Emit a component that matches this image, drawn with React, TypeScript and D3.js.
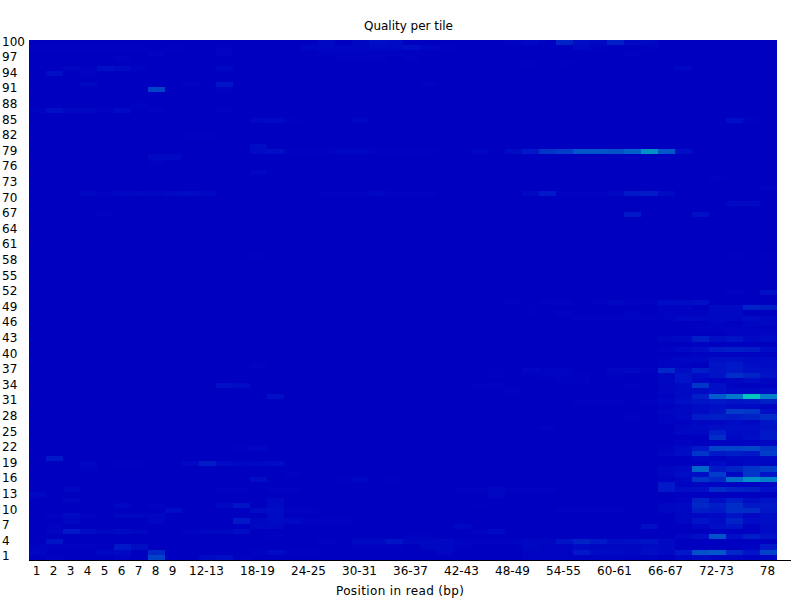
import React from "react";
import * as d3 from "d3";

// Position labels: single bases 1-9, then two-base groups, then base 78
const singleBases: string[] = ["1", "2", "3", "4", "5", "6", "7", "8", "9"];
const pairedBases: string[] = d3.range(10, 78, 2).map((b) => `${b}-${b + 1}`);
const positions: string[] = [...singleBases, ...pairedBases, "78"];
const shownPositions: string[] = [
  "1", "2", "3", "4", "5", "6", "7", "8", "9", "12-13", "18-19", "24-25", "30-31", "36-37",
  "42-43", "48-49", "54-55", "60-61", "66-67", "72-73", "78",
];
const tiles: number[] = d3.range(100, 0, -1);
const shownTiles: number[] = d3.range(100, 0, -3);

// Each run: [tile, first position index, values of consecutive positions...]; unlisted cells are 0
const runsTop: number[][] = [
  [100, 17, 6, 0, 5, 10, 8], [100, 28, 2, 4, 0, 18, 9, 5, 16, 6, 6],
  [99, 0, 3, 3, 3, 3, 3, 3, 3, 0, 3, 0, 0, 3], [99, 16, 5, 4, 4, 4, 7, 7, 10, 4, 3], [99, 32, 6, 2, 0, 0, 2],
  [98, 7, 3], [98, 11, 3], [98, 17, 2, 2, 2, 2, 2, 1], [98, 35, 2],
  [97, 5, 2], [97, 18, 2, 2, 2, 0, 2],
  [96, 29, 2, 0, 3],
  [95, 2, 4, 3, 10, 7, 2, 0, 1, 1, 1, 5], [95, 17, 1.5], [95, 38, 5],
  [94, 1, 10, 0, 2],
  [92, 3, 5], [92, 9, 3, 0, 12], [92, 23, 2],
  [91, 7, 30], [91, 11, 2],
  [88, 6, 2],
  [87, 0, 2, 10, 5, 5, 3, 7, 0, 3], [87, 11, 3],
  [85, 13, 6, 7, 3], [85, 19, 4], [85, 41, 10, 3],
  [82, 9, 3, 3],
  [80, 13, 8],
  [79, 13, 7, 10, 3, 3, 3, 5, 5, 3, 3, 3, 3], [79, 26, 5, 0, 8, 14, 25, 28, 38, 38, 36, 42, 70, 38, 10],
  [78, 7, 6, 6],
  [77, 7, 3],
  [75, 13, 4],
  [74, 40, 2],
  [72, 43, 2],
  [71, 3, 4, 2, 5, 6, 4, 7, 8, 5], [71, 17, 2, 2, 2, 4, 2, 2, 2], [71, 29, 6, 14, 3, 3, 3, 5, 14, 15, 7],
  [69, 18, 1.5], [69, 22, 1.5], [69, 41, 6, 6],
  [67, 4, 2], [67, 35, 14], [67, 39, 10],
  [59, 13, 2], [59, 41, 2], [59, 43, 2],
];

const runsMiddle: number[][] = [
  [52, 41, 3, 0, 10],
  [50, 28, 2, 0, 2, 2, 0, 2, 4, 2, 3, 8, 8, 10],
  [49, 29, 1.5], [49, 37, 3, 3, 0, 7, 7, 18, 16],
  [48, 29, 1.5, 0, 2], [48, 35, 2, 0, 2, 2, 2, 6, 6],
  [47, 32, 2, 2, 2, 3, 3, 3, 6, 6, 6, 6, 8, 5],
  [46, 40, 3, 0, 4, 6],
  [45, 39, 2, 3, 3, 3, 3],
  [44, 41, 2, 2, 6],
  [43, 37, 5, 6, 16, 10, 12, 6, 8],
  [42, 39, 2],
  [41, 37, 3, 6, 9, 15, 17, 15, 8],
  [40, 39, 3, 3, 3, 3, 3],
  [39, 37, 2, 5, 5, 10, 10, 8, 8],
  [38, 13, 2], [38, 37, 2, 3, 0, 12, 14, 10, 8],
  [37, 27, 3, 0, 4, 3, 3], [37, 34, 4, 6, 3, 20, 9, 16, 12, 14, 11, 10],
  [36, 27, 1.5, 1.5, 1.5, 2, 3, 3, 0, 3], [36, 37, 5, 12, 8, 12, 22, 18, 12],
  [35, 31, 2, 2], [35, 37, 5, 12, 5, 2, 4, 8, 4],
  [34, 11, 10, 8], [34, 26, 2, 2], [34, 35, 2, 0, 4, 7, 25, 10, 3, 3, 2],
  [33, 28, 2], [33, 37, 4, 7, 7, 10, 6, 7, 9],
  [32, 14, 10], [32, 37, 2, 7, 16, 40, 55, 98, 60],
  [31, 32, 2, 2, 2, 0, 2, 5, 10, 12, 14, 12, 13, 17],
  [30, 37, 2, 4, 8, 10, 7, 7, 4],
  [29, 37, 4, 6, 8, 12, 27, 25, 10],
  [28, 35, 2, 0, 3, 6, 15, 16, 15, 18, 22],
  [27, 37, 2, 3, 5, 4, 8, 6, 12],
  [26, 30, 2], [26, 38, 5, 7, 9, 10, 10, 12],
];

const runsBottom: number[][] = [
  [25, 38, 6, 5, 16, 8, 8, 14],
  [24, 40, 22, 6, 10, 14],
  [23, 38, 2, 0, 3, 3, 3, 6],
  [22, 12, 2, 4], [22, 37, 3, 7, 14, 30, 30, 32, 25],
  [21, 37, 4, 8, 25, 14, 16, 14, 28],
  [20, 1, 14], [20, 39, 5, 3, 5, 6, 7],
  [19, 3, 4, 0, 2, 2, 0, 0, 6, 15, 8, 5, 6, 8], [19, 40, 8, 3, 5, 4],
  [18, 3, 2], [18, 37, 5, 7, 45, 14, 18, 25, 28],
  [17, 15, 2], [17, 37, 4, 9, 10, 28, 5, 25, 12],
  [16, 13, 9], [16, 18, 2, 5, 0, 2], [16, 37, 3, 5, 25, 20, 50, 68, 60],
  [15, 37, 14, 2, 4, 5, 3, 3, 4],
  [14, 2, 5], [14, 11, 3, 3, 0, 3, 3], [14, 25, 2, 2, 5, 2, 3, 3], [14, 37, 14, 9, 10, 22, 18, 16, 10],
  [13, 0, 4], [13, 27, 4], [13, 38, 1],
  [12, 2, 4], [12, 14, 6], [12, 38, 3, 18, 10, 16, 9, 12],
  [11, 5, 5, 0, 3], [11, 11, 5, 12, 0, 7], [11, 26, 1.5], [11, 37, 5, 6, 20, 16, 22, 14, 14],
  [10, 8, 8], [10, 13, 8, 8, 2, 2], [10, 31, 3, 3, 3, 3], [10, 37, 5, 6, 16, 14, 22, 22, 13],
  [9, 1, 3, 7, 2, 0, 5, 4, 5], [9, 14, 8], [9, 38, 5, 4, 7, 12, 4, 10],
  [8, 2, 5], [8, 7, 4], [8, 12, 14, 5, 7, 6, 3, 3, 3], [8, 38, 4, 12, 8, 18, 8, 10],
  [7, 1, 2], [7, 13, 6, 6], [7, 25, 5], [7, 36, 10, 0, 0, 4, 10, 12, 3, 9],
  [6, 1, 4, 14, 8, 5, 7, 4, 0, 0, 3, 5, 5, 9], [6, 26, 2, 7], [6, 40, 2, 0, 0, 8],
  [5, 14, 2], [5, 19, 1.5, 1.5, 0, 2, 2], [5, 38, 4, 10, 36, 10, 16, 12],
  [4, 1, 12], [4, 17, 3, 0, 6, 6, 12, 5, 6, 6, 3, 3, 3, 3, 5], [4, 30, 4, 12, 18, 14, 9, 10, 12, 6],
  [3, 0, 3, 2, 2, 2, 0, 14, 9], [3, 19, 3, 3, 3, 0, 5, 5, 3, 0, 0, 0, 5, 2, 3, 7, 5, 5, 5, 7, 6], [3, 42, 3, 14],
  [2, 0, 4, 0, 0, 0, 5, 6, 0, 20], [2, 13, 2, 8, 3, 3], [2, 24, 4], [2, 29, 3, 3, 3, 14, 8, 7, 5, 9, 6, 14, 35, 38, 20, 12, 30],
  [1, 1, 3, 0, 0, 0, 3, 0, 30, 0, 0, 7, 10, 3], [1, 29, 3, 3, 3, 3, 3, 3, 3, 3, 0, 5, 8, 5, 4, 2, 5],
];

const chartTitle = "Quality per tile";
const xTitle = "Position in read (bp)";

const W = 800;
const H = 600;
const plot = { left: 29, right: 777, top: 40, bottom: 560 };
const FONT = "'DejaVu Sans', sans-serif";

type Cell = { tile: number; position: string; value: number };

const cells: Cell[] = [...runsTop, ...runsMiddle, ...runsBottom].flatMap(([tile, start, ...values]) =>
  values
    .map((value, i) => ({ tile, position: positions[start + i], value }))
    .filter((c) => c.value > 0)
);

export default function App() {
  const x = d3.scaleBand<string>().domain(positions).range([plot.left, plot.right]);
  const y = d3.scaleBand<number>().domain(tiles).range([plot.top, plot.bottom]);
  const color = d3
    .scaleLinear<string>()
    .domain([0, 10, 40, 100])
    .range(["rgb(0,0,192)", "rgb(0,14,198)", "rgb(0,92,204)", "rgb(0,200,192)"]);

  return (
    <svg
      width={W}
      height={H}
      viewBox={`0 0 ${W} ${H}`}
      style={{ position: "absolute", left: 0, top: 0, background: "#fff" }}
      fontFamily={FONT}
      fontSize={12}
    >
      <rect
        x={plot.left}
        y={plot.top}
        width={plot.right - plot.left}
        height={plot.bottom - plot.top}
        fill={color(0)}
        shapeRendering="crispEdges"
      />
      <g shapeRendering="crispEdges">
        {cells.map((c) => {
          const top = Math.round(y(c.tile)!);
          const bottom = Math.round(y(c.tile)! + y.bandwidth());
          return (
            <rect
              key={`${c.tile}-${c.position}`}
              x={x(c.position)}
              y={top}
              width={x.bandwidth()}
              height={bottom - top}
              fill={color(c.value)}
            />
          );
        })}
      </g>
      <line x1={plot.left} x2={791} y1={560.5} y2={560.5} stroke="#000" strokeWidth={1} />
      <text x={408.5} y={30} textAnchor="middle" textLength={89} fill="#000">
        {chartTitle}
      </text>
      {shownTiles.map((t) => (
        <text key={t} x={2} y={y(t)! + y.bandwidth() / 2 + 3} fill="#000">
          {t}
        </text>
      ))}
      {shownPositions.map((p) => (
        <text key={p} x={x(p)! + x.bandwidth() / 2 - 1} y={575} textAnchor="middle" fill="#000">
          {p}
        </text>
      ))}
      <text x={400} y={595} textAnchor="middle" textLength={128} fill="#000">
        {xTitle}
      </text>
    </svg>
  );
}
